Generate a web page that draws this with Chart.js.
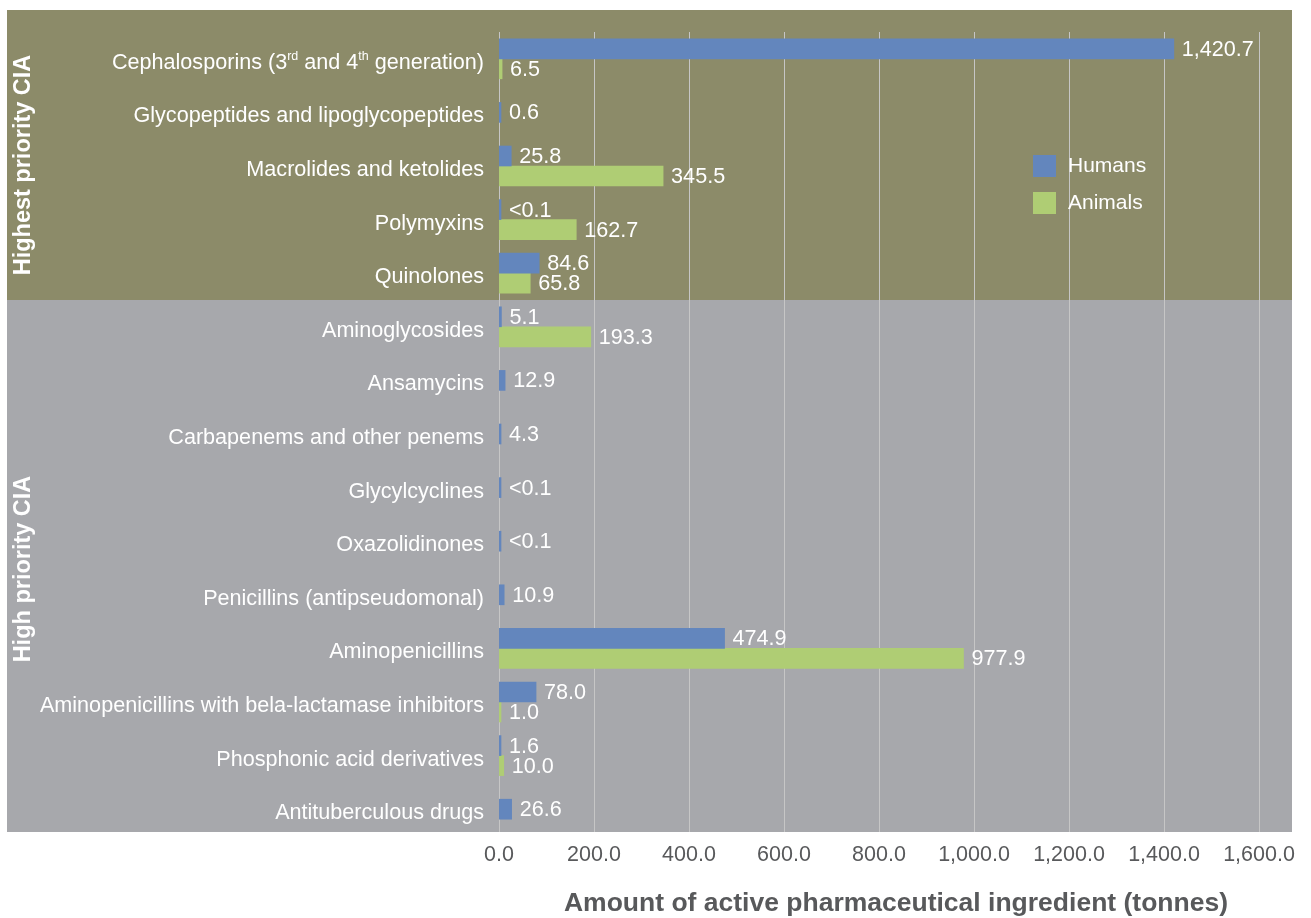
<!DOCTYPE html>
<html>
<head>
<meta charset="UTF-8" />
<title>Critically important antimicrobials - humans vs animals</title>
<script src="https://cdn.jsdelivr.net/npm/chart.js"></script>
<style>
  html, body { margin: 0; padding: 0; background: #fff; }
  #wrap { width: 1311px; height: 918px; position: relative; }
</style>
</head>
<body>
<div id="wrap"><canvas id="ciaChart"></canvas></div>
<script>
// --- Data (tonnes of active ingredient) ---
const classes = [
  'Cephalosporins (3rd and 4th generation)',
  'Glycopeptides and lipoglycopeptides',
  'Macrolides and ketolides',
  'Polymyxins',
  'Quinolones',
  'Aminoglycosides',
  'Ansamycins',
  'Carbapenems and other penems',
  'Glycylcyclines',
  'Oxazolidinones',
  'Penicillins (antipseudomonal)',
  'Aminopenicillins',
  'Aminopenicillins with bela-lactamase inhibitors',
  'Phosphonic acid derivatives',
  'Antituberculous drugs'
];
// 0.05 stands for the "<0.1" entries
const humans  = [1420.7, 0.6, 25.8, 0.05, 84.6, 5.1, 12.9, 4.3, 0.05, 0.05, 10.9, 474.9, 78.0, 1.6, 26.6];
const animals = [6.5, null, 345.5, 162.7, 65.8, 193.3, null, null, null, null, null, 977.9, 1.0, 10.0, null];

const seriesNames = ['Humans', 'Animals'];
const groupNames = ['Highest priority CIA', 'High priority CIA'];
const groupSizes = [5, 10];
const xMin = 0, xMax = 1600, xStep = 200;
const axisTitle = 'Amount of active pharmaceutical ingredient (tonnes)';

// --- Styles ---
const BLUE = '#6386bd';
const GREEN = '#afcd74';
const BAND_COLORS = ['#8c8b69', '#a7a8ac'];
const GRID = '#c6c6c6';
const FONT = '"Liberation Sans", Arial, Helvetica, sans-serif';
const LABEL_FONT = '21.6px ' + FONT;
const SUP_FONT = '12.5px ' + FONT;

Chart.defaults.font.family = FONT;

const fmt = v => v < 0.1 ? '<0.1'
  : v.toLocaleString('en-US', { minimumFractionDigits: 1, maximumFractionDigits: 1 });

// category label with superscript ordinals (3rd, 4th)
function drawRichLabel(ctx, text, right, y) {
  const parts = [];
  const re = /(\d)(st|nd|rd|th)\b/g;
  let last = 0, m;
  while ((m = re.exec(text))) {
    parts.push({ t: text.slice(last, m.index + 1), sup: false });
    parts.push({ t: m[2], sup: true });
    last = m.index + m[0].length;
  }
  parts.push({ t: text.slice(last), sup: false });
  let total = 0;
  parts.forEach(p => {
    ctx.font = p.sup ? SUP_FONT : LABEL_FONT;
    p.w = ctx.measureText(p.t).width;
    total += p.w;
  });
  let x = right - total;
  ctx.textAlign = 'left';
  parts.forEach(p => {
    ctx.font = p.sup ? SUP_FONT : LABEL_FONT;
    ctx.fillText(p.t, x, p.sup ? y - 6 : y);
    x += p.w;
  });
}

const decorations = {
  id: 'decorations',
  beforeDraw(chart) {
    const { ctx, chartArea, scales } = chart;
    const y = scales.y;
    ctx.save();
    ctx.fillStyle = '#fff';
    ctx.fillRect(0, 0, chart.width, chart.height);
    // priority bands behind the plot
    const top = chartArea.top - 22;
    const bottom = chartArea.bottom - 4;
    const titleShift = [10, 3];
    let start = 0;
    let bandTop = top;
    groupSizes.forEach((n, g) => {
      const end = start + n - 1;
      const bandBottom = g === groupSizes.length - 1
        ? bottom
        : (y.getPixelForValue(end) + y.getPixelForValue(end + 1)) / 2;
      ctx.fillStyle = BAND_COLORS[g];
      ctx.fillRect(7, bandTop, 1292 - 7, bandBottom - bandTop);
      // group title, rotated
      ctx.save();
      ctx.translate(24, (bandTop + bandBottom) / 2 + titleShift[g]);
      ctx.rotate(-Math.PI / 2);
      ctx.fillStyle = '#fff';
      ctx.font = 'bold 23.5px ' + FONT;
      ctx.textAlign = 'center';
      ctx.textBaseline = 'middle';
      ctx.fillText(groupNames[g], 0, 0);
      ctx.restore();
      bandTop = bandBottom;
      start += n;
    });
    ctx.restore();
  },
  beforeDatasetsDraw(chart) {
    const { ctx, chartArea, scales } = chart;
    const x = scales.x;
    ctx.save();
    ctx.strokeStyle = GRID;
    ctx.lineWidth = 1;
    for (let v = xMin; v <= xMax; v += xStep) {
      const px = Math.round(x.getPixelForValue(v)) + 0.5;
      ctx.beginPath();
      ctx.moveTo(px, chartArea.top);
      ctx.lineTo(px, chartArea.bottom - 4);
      ctx.stroke();
    }
    ctx.restore();
  },
  afterDatasetsDraw(chart) {
    const { ctx, chartArea, scales } = chart;
    const y = scales.y;
    ctx.save();
    ctx.fillStyle = '#fff';
    ctx.textBaseline = 'middle';

    // value labels at the end of each bar
    chart.data.datasets.forEach((ds, di) => {
      const meta = chart.getDatasetMeta(di);
      meta.data.forEach((bar, i) => {
        const v = ds.data[i];
        if (v === null || v === undefined) return;
        ctx.font = LABEL_FONT;
        ctx.textAlign = 'left';
        ctx.fillText(fmt(v), Math.max(bar.x, bar.base + 2) + 8, bar.y + 1);
      });
    });

    // category labels
    classes.forEach((c, i) => {
      drawRichLabel(ctx, c, chartArea.left - 15, y.getPixelForValue(i) + 4);
    });

    // legend
    [BLUE, GREEN].forEach((col, k) => {
      const ly = 155 + k * 37;
      ctx.fillStyle = col;
      ctx.fillRect(1033, ly, 23, 22);
      ctx.fillStyle = '#fff';
      ctx.font = '21px ' + FONT;
      ctx.textAlign = 'left';
      ctx.fillText(seriesNames[k], 1068, ly + 11);
    });

    // x axis title
    ctx.fillStyle = '#58595b';
    ctx.font = 'bold 26.5px ' + FONT;
    ctx.textAlign = 'center';
    ctx.fillText(axisTitle, 896, 904);
    ctx.restore();
  }
};

new Chart(document.getElementById('ciaChart'), {
  type: 'bar',
  data: {
    labels: classes,
    datasets: [
      { label: seriesNames[0], data: humans, backgroundColor: BLUE },
      { label: seriesNames[1], data: animals, backgroundColor: GREEN }
    ]
  },
  options: {
    indexAxis: 'y',
    responsive: true,
    maintainAspectRatio: false,
    animation: false,
    layout: { padding: { top: 32, right: 52, left: 0, bottom: 0 } },
    datasets: {
      bar: { barThickness: 20, skipNull: true, minBarLength: 2, borderWidth: 0 }
    },
    plugins: { legend: { display: false }, tooltip: { enabled: false } },
    scales: {
      y: {
        type: 'category',
        ticks: { display: false },
        grid: { display: false },
        border: { display: false },
        afterFit(s) { s.width = 499; }
      },
      x: {
        min: xMin,
        max: xMax,
        ticks: {
          stepSize: xStep,
          color: '#58595b',
          font: { size: 21.5 },
          padding: 6,
          callback: v => v.toLocaleString('en-US', { minimumFractionDigits: 1, maximumFractionDigits: 1 })
        },
        grid: { display: false, drawTicks: false, tickLength: 0 },
        border: { display: false },
        afterFit(s) { s.height = 82; }
      }
    }
  },
  plugins: [decorations]
});
</script>
</body>
</html>
